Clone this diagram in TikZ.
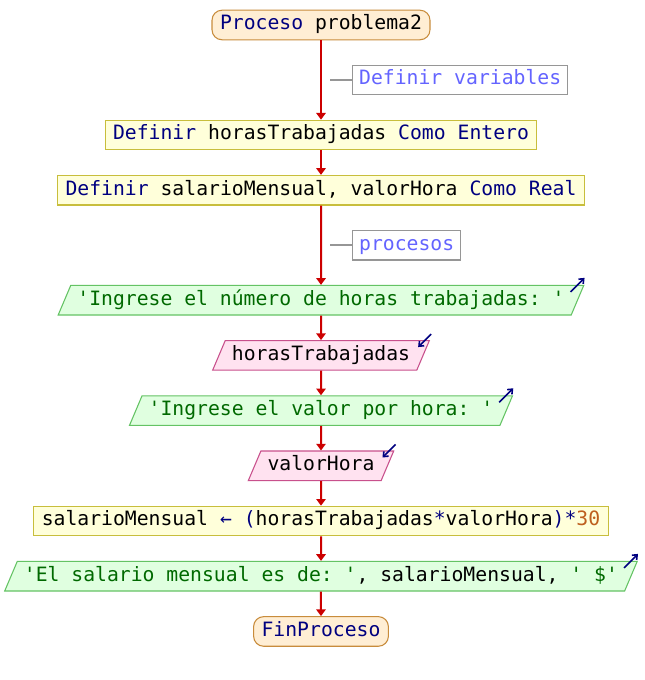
\documentclass[tikz,border=0pt]{standalone}
\usepackage{fontspec}
\setmonofont{DejaVu Sans Mono}
\usepackage{tikz}
\usetikzlibrary{positioning, shapes.geometric, arrows.meta}

\definecolor{kwcol}{RGB}{0,0,128}
\definecolor{strcol}{RGB}{0,105,0}
\definecolor{numcol}{RGB}{190,95,30}
\definecolor{cmtcol}{RGB}{100,100,255}
\definecolor{flowcol}{RGB}{204,0,0}
\newcommand{\pkw}[1]{\textcolor{kwcol}{#1}}
\newcommand{\pstr}[1]{\textcolor{strcol}{#1}}
\newcommand{\pnum}[1]{\textcolor{numcol}{#1}}

\begin{document}
\begin{tikzpicture}[x=0.75pt, y=-0.75pt, node distance=18.4pt,
    every node/.style={font=\ttfamily\fontsize{14.8pt}{17pt}\selectfont, text height=10.8pt, text depth=3.4pt, inner ysep=4pt},
    terminal/.style={draw={rgb,255:red,200;green,140;blue,60}, fill={rgb,255:red,255;green,238;blue,212}, rounded corners=7.5pt, inner xsep=6pt, line width=0.8pt},
    proc/.style={draw={rgb,255:red,200;green,190;blue,60}, fill={rgb,255:red,255;green,255;blue,218}, rectangle, inner xsep=6pt, line width=0.8pt},
    outp/.style={draw={rgb,255:red,100;green,195;blue,100}, fill={rgb,255:red,224;green,255;blue,224}, trapezium, trapezium left angle=67, trapezium right angle=113, inner xsep=5pt, line width=0.8pt},
    inp/.style={draw={rgb,255:red,200;green,80;blue,140}, fill={rgb,255:red,255;green,226;blue,240}, trapezium, trapezium left angle=67, trapezium right angle=113, inner xsep=5pt, line width=0.8pt},
    comment/.style={draw={rgb,255:red,150;green,150;blue,150}, fill=white, text=cmtcol, inner xsep=5pt, line width=0.8pt},
    flow/.style={draw=flowcol, line width=1.5pt, -{Triangle[length=5pt, width=7pt]}},
    commentline/.style={draw={rgb,255:red,150;green,150;blue,150}, line width=1.5pt},
    ioarrow/.style={draw=kwcol, line width=1.2pt, -{Straight Barb[length=3pt, width=5pt]}}]
    \fill[white] (0,0) rectangle (644,680);
    \useasboundingbox (0,0) rectangle (644,680);

    % nodes
    \node[terminal] (start) at (321,25) {\pkw{Proceso} problema2};
    \node[proc] (def1) [below=59.5pt of start] {\pkw{Definir} horasTrabajadas \pkw{Como Entero}};
    \node[proc] (def2) [below=of def1] {\pkw{Definir} salarioMensual, valorHora \pkw{Como Real}};
    \node[outp] (out1) [below=59.5pt of def2] {\pstr{'Ingrese el número de horas trabajadas: '}};
    \node[inp] (in1) [below=of out1] {horasTrabajadas};
    \node[outp] (out2) [below=of in1] {\pstr{'Ingrese el valor por hora: '}};
    \node[inp] (in2) [below=of out2] {valorHora};
    \node[proc] (assign) [below=of in2] {salarioMensual \pkw{←} \pkw{(}horasTrabajadas\pkw{*}valorHora\pkw{)*}\pnum{30}};
    \node[outp] (out3) [below=of assign] {\pstr{'El salario mensual es de: '}, salarioMensual, \pstr{' \$'}};
    \node[terminal] (fin) [below=of out3] {\pkw{FinProceso}};

    % comments
    \path (start) -- coordinate[midway] (m1) (def1);
    \path (def2) -- coordinate[midway] (m2) (out1);
    \coordinate[right=6.75pt of m1] (m1a);
    \coordinate[right=6.75pt of m2] (m2a);
    \node[comment, right=16.5pt of m1a] (c1) {Definir variables};
    \node[comment, right=16.5pt of m2a] (c2) {procesos};
    \draw[commentline] (m1a) -- (c1);
    \draw[commentline] (m2a) -- (c2);

    % arrows
    \draw[flow] (start) -- (def1);
    \draw[flow] (def1) -- (def2);
    \draw[flow] (def2) -- (out1);
    \draw[flow] (out1) -- (in1);
    \draw[flow] (in1) -- (out2);
    \draw[flow] (out2) -- (in2);
    \draw[flow] (in2) -- (assign);
    \draw[flow] (assign) -- (out3);
    \draw[flow] (out3) -- (fin);

    % io marks
    \foreach \n in {out1, out2, out3}
        \draw[ioarrow] ([shift={(-14,7)}]\n.top right corner) -- ([shift={(0,-7)}]\n.top right corner);
    \foreach \n in {in1, in2}
        \draw[ioarrow] ([shift={(1,-6)}]\n.top right corner) -- ([shift={(-12,7)}]\n.top right corner);
\end{tikzpicture}
\end{document}
